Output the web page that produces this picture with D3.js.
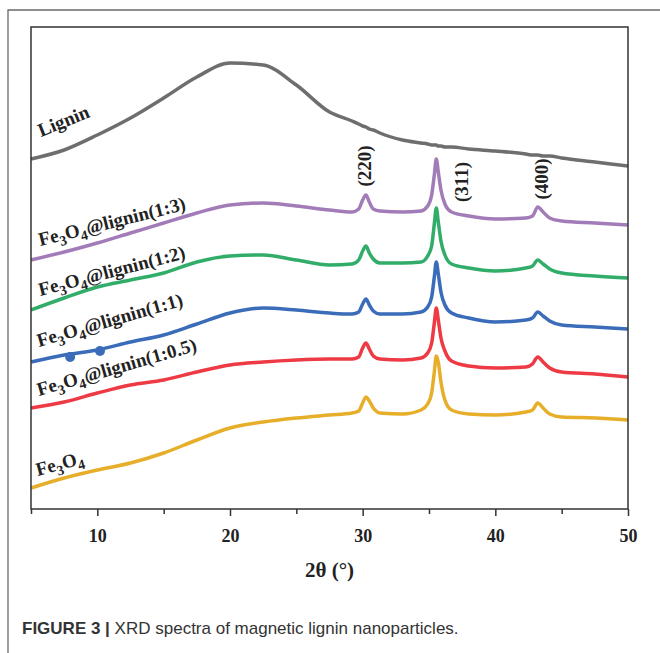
<!DOCTYPE html>
<html>
<head>
<meta charset="utf-8">
<script src="https://cdn.jsdelivr.net/npm/d3@7"></script>
<style>
  body { margin: 0; background: #fff; }
</style>
</head>
<body>
<div id="chart-area"></div>
<script>
/**
 * XRD spectra of magnetic lignin nanoparticles (stacked traces)
 */

// Data -------------------------------------------------
const twoTheta = [5, 7.5, 10, 12.5, 15, 17.5, 20, 22.5, 25, 27.5,
  29.2, 29.7, 30.0, 30.25, 30.5, 30.8, 31.3, 33, 34.4, 34.9,
  35.2, 35.4, 35.55, 35.7, 35.9, 36.2, 36.7, 38, 40, 42.3,
  42.8, 43.2, 43.6, 44.1, 45, 47.5, 50]

// intensity, a.u. (traces already offset as in the figure)
const lignin = [350, 359, 374, 391, 411, 432, 446, 444, 424, 397,
  388, 385, 383, 382, 380, 379, 376, 369, 366, 365,
  364, 364, 364, 363, 363, 362, 362, 360, 358, 355,
  354, 354, 353, 353, 351, 347, 343]
const lig13 = [249, 257, 266, 276, 286, 296, 304, 306, 303, 299,
  297, 300, 309, 314, 307, 300, 298, 297, 298, 303,
  314, 334, 350, 337, 319, 305, 297, 293, 290, 291,
  293, 302, 297, 291, 288, 286, 284]
const lig12 = [199, 211, 222, 229, 236, 247, 253, 254, 249, 244,
  245, 249, 258, 263, 256, 250, 246, 246, 247, 253,
  263, 285, 301, 287, 268, 254, 245, 241, 238, 241,
  243, 249, 245, 240, 236, 233, 231]
const lig11 = [147, 154, 159, 167, 174, 185, 196, 201, 199, 196,
  195, 197, 205, 210, 204, 198, 195, 195, 197, 202,
  212, 232, 247, 235, 217, 204, 196, 191, 187, 189,
  191, 197, 193, 188, 184, 182, 180]
const lig105 = [101, 107, 116, 124, 129, 137, 144, 147, 149, 150,
  150, 152, 161, 166, 160, 153, 150, 149, 151, 156,
  166, 186, 201, 189, 171, 158, 148, 143, 141, 142,
  145, 152, 147, 141, 137, 135, 132]
const fe3o4 = [21, 31, 39, 46, 56, 69, 81, 87, 91, 94,
  96, 98, 106, 112, 108, 101, 96, 95, 99, 105,
  116, 137, 153, 147, 127, 109, 99, 95, 94, 97,
  99, 106, 101, 95, 92, 91, 89]

// two stray dots on the 1:1 trace
const dotTheta = [7.95, 10.2]
const dotValue = [152, 158]

const xTicks = [5, 10, 15, 20, 25, 30, 35, 40, 45, 50]
const peakNames = ["(220)", "(311)", "(400)"]

// Canvas setup -----------------------------------------
const W = 660, H = 653
const PLOT = {LEFT: 31, RIGHT: 628, TOP: 27, BOTTOM: 509}
const SERIF = "'Liberation Serif', 'Times New Roman', serif"

const svg = d3.select("#chart-area").append("svg")
  .attr("width", W)
  .attr("height", H)

const x = d3.scaleLinear().domain([5, 50]).range([PLOT.LEFT, PLOT.RIGHT])
const y = d3.scaleLinear().domain([0, 482]).range([PLOT.BOTTOM, PLOT.TOP])

// outer figure frame
svg.append("path")
  .attr("d", `M8,${H} V10 H${W}`)
  .attr("fill", "none")
  .attr("stroke", "#6a6a6a")
  .attr("stroke-width", 1.3)

// Traces -----------------------------------------
const series = [
  {name: "Lignin", values: lignin, color: "#6e6e6e"},
  {name: "1:3", values: lig13, color: "#a27cb8"},
  {name: "1:2", values: lig12, color: "#31ad69"},
  {name: "1:1", values: lig11, color: "#3a6cb9"},
  {name: "1:0.5", values: lig105, color: "#ee3a44"},
  {name: "Fe3O4", values: fe3o4, color: "#e7ae2a"}
]

const line = d3.line()
  .x(d => x(d[0]))
  .y(d => y(d[1]))
  .curve(d3.curveMonotoneX)

svg.append("g").selectAll("path")
  .data(series)
  .enter().append("path")
    .attr("d", s => line(twoTheta.map((t, i) => [t, s.values[i]])))
    .attr("fill", "none")
    .attr("stroke", s => s.color)
    .attr("stroke-width", 3.5)
    .attr("stroke-linejoin", "round")

svg.append("g").selectAll("circle")
  .data(dotTheta)
  .enter().append("circle")
    .attr("cx", d => x(d))
    .attr("cy", (d, i) => y(dotValue[i]))
    .attr("r", 5)
    .attr("fill", "#3a6cb9")

// Plot frame + axis -----------------------------------------
svg.append("rect")
  .attr("x", PLOT.LEFT)
  .attr("y", PLOT.TOP)
  .attr("width", PLOT.RIGHT - PLOT.LEFT)
  .attr("height", PLOT.BOTTOM - PLOT.TOP)
  .attr("fill", "none")
  .attr("stroke", "#333")
  .attr("stroke-width", 1.5)

const xAxis = svg.append("g")
  .attr("transform", `translate(0, ${PLOT.BOTTOM})`)
  .call(d3.axisBottom(x).tickValues(xTicks).tickSizeOuter(0)
    .tickFormat(d => d % 10 == 0 ? d : ""))

xAxis.select(".domain").remove()
xAxis.selectAll(".tick line")
  .attr("stroke", "#333")
  .attr("stroke-width", 1.5)
  .attr("y2", d => d % 10 == 0 ? 7 : 5)
xAxis.selectAll(".tick text")
  .attr("y", 20)
  .attr("fill", "#222")
  .attr("font-family", SERIF)
  .attr("font-weight", "bold")
  .attr("font-size", "18px")

svg.append("text")
  .attr("x", (PLOT.LEFT + PLOT.RIGHT) / 2)
  .attr("y", 577)
  .attr("text-anchor", "middle")
  .attr("font-family", SERIF)
  .attr("font-weight", "bold")
  .attr("font-size", "21px")
  .attr("fill", "#222")
  .text("2θ (°)")

// Trace labels -----------------------------------------
// [2θ, intensity] of label start and rotation
const labelSpots = [
  {t: 5.75, v: 372, rot: -22},
  {t: 5.7, v: 263, rot: -14},
  {t: 5.7, v: 213, rot: -14.5},
  {t: 5.6, v: 162, rot: -16},
  {t: 5.6, v: 113, rot: -16},
  {t: 5.5, v: 33, rot: -15}
]

function fe3o4Label(sel) {
  sel.append("tspan").text("Fe")
  sel.append("tspan").text("3").attr("font-size", "14px").attr("dy", 5)
  sel.append("tspan").text("O").attr("dy", -5)
  sel.append("tspan").text("4").attr("font-size", "14px").attr("dy", 5)
}

series.forEach((s, i) => {
  const sp = labelSpots[i]
  const lbl = svg.append("text")
    .attr("transform", `translate(${x(sp.t)}, ${y(sp.v)}) rotate(${sp.rot})`)
    .attr("font-family", SERIF)
    .attr("font-weight", "bold")
    .attr("font-size", "19px")
    .attr("fill", "#222")
  if (s.name == "Lignin") {
    lbl.text("Lignin")
  } else {
    fe3o4Label(lbl)
    if (s.name != "Fe3O4")
      lbl.append("tspan").attr("dy", -5).text(`@lignin(${s.name})`)
  }
})

// Peak labels -----------------------------------------
const peakSpots = [[30.17, 343], [37.44, 327], [43.47, 330]]
svg.append("g").selectAll("text")
  .data(peakNames)
  .enter().append("text")
    .attr("transform", (d, i) => `translate(${x(peakSpots[i][0])}, ${y(peakSpots[i][1])}) rotate(-90)`)
    .attr("text-anchor", "middle")
    .attr("dominant-baseline", "central")
    .attr("font-family", SERIF)
    .attr("font-weight", "bold")
    .attr("font-size", "19px")
    .attr("fill", "#222")
    .text(d => d)

// Caption -----------------------------------------
const cap = svg.append("text")
  .attr("x", 22)
  .attr("y", 634)
  .attr("font-family", "'Liberation Sans', Arial, sans-serif")
  .attr("font-size", "17px")
  .attr("fill", "#333")
cap.append("tspan").attr("font-weight", "bold").text("FIGURE 3 | ")
cap.append("tspan").text("XRD spectra of magnetic lignin nanoparticles.")
</script>
</body>
</html>
